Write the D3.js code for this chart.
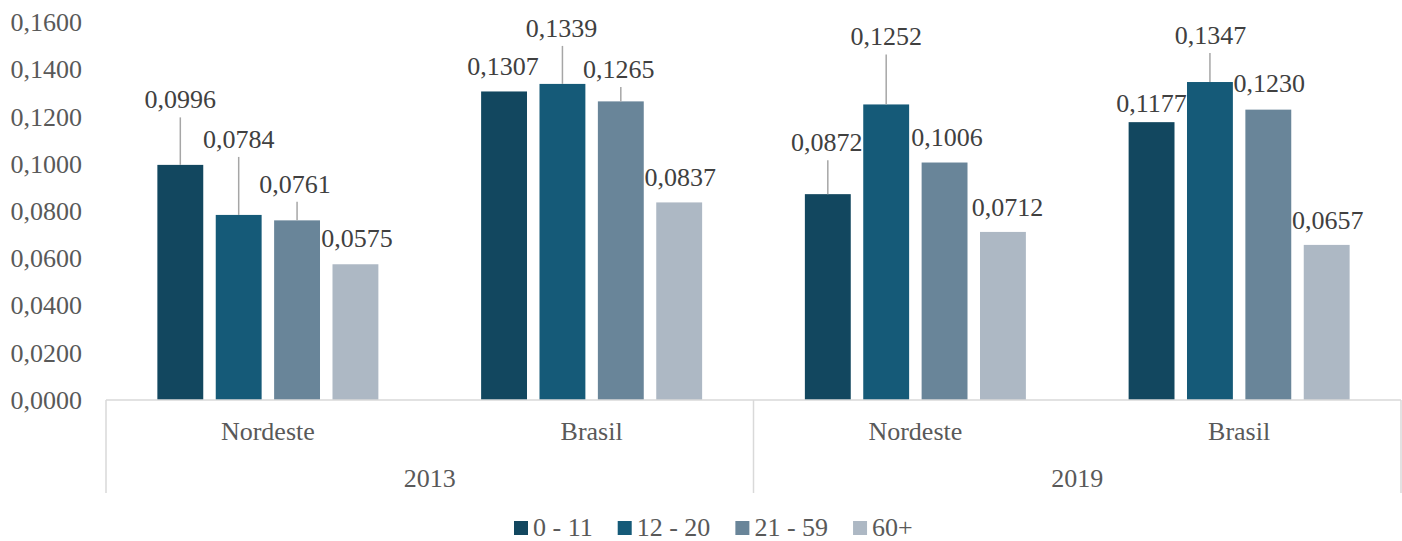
<!DOCTYPE html>
<html>
<head>
<meta charset="utf-8">
<script src="https://cdn.jsdelivr.net/npm/d3@7"></script>
<style>
  body { margin: 0; background: #fff; }
  svg text { font-family: 'Liberation Serif', 'Times New Roman', Times, 'DejaVu Serif', serif; }
</style>
</head>
<body>
<svg id="chart"></svg>
<script>
// data
const years = ["2013", "2019"]
const regions = ["Nordeste", "Brasil"]
const ageGroups = ["0 - 11", "12 - 20", "21 - 59", "60+"]
const nordeste2013 = [0.0996, 0.0784, 0.0761, 0.0575]
const brasil2013 = [0.1307, 0.1339, 0.1265, 0.0837]
const nordeste2019 = [0.0872, 0.1252, 0.1006, 0.0712]
const brasil2019 = [0.1177, 0.1347, 0.1230, 0.0657]
const yTicks = [0, 0.02, 0.04, 0.06, 0.08, 0.10, 0.12, 0.14, 0.16]

// layout / style
const width = 1402, height = 541
const colors = ["#12475f", "#155a78", "#698599", "#adb8c4"]
const fontSize = 26
const serif = "'Liberation Serif', 'Times New Roman', Times, 'DejaVu Serif', serif"
// manual label placement (dx, dy of label centre from bar top), like the moved excel labels
const labelNudge = [
  [[0, -65.5], [0, -76], [-2, -36.5], [1.5, -26]],
  [[-1, -25.5], [-1, -56], [-2, -32.5], [1, -25]],
  [[-1, -52], [0, -68], [2.5, -25.5], [4.5, -25]],
  [[0, -19], [0.5, -47], [1, -26.5], [1, -25]]
]

const groups = []
const groupValues = [nordeste2013, brasil2013, nordeste2019, brasil2019]
years.forEach((yr, yi) => regions.forEach((rg, ri) => {
  groups.push({key: yr + "-" + rg, year: yr, region: rg, values: groupValues[yi * 2 + ri], idx: yi * 2 + ri})
}))

const fmt = v => d3.format(".4f")(v).replace(".", ",")

const svg = d3.select("#chart").attr("width", width).attr("height", height)

const x0 = d3.scaleBand()
  .domain(groups.map(d => d.key))
  .range([106, 1401])
  .padding(0)

const x1 = d3.scaleBand()
  .domain(ageGroups)
  .range([0, x0.bandwidth()])
  .paddingInner(0.214)
  .paddingOuter(0.88)

const y = d3.scaleLinear()
  .domain([0, 0.16])
  .range([400, 22.3])

// y axis labels, no line
const yAxis = svg.append("g")
  .attr("transform", "translate(82,0)")
  .call(d3.axisLeft(y).tickValues(yTicks).tickFormat(fmt).tickSize(0).tickPadding(0))
yAxis.attr("font-family", serif).attr("font-size", fontSize)
yAxis.select(".domain").remove()
yAxis.selectAll("text")
  .style("fill", "#595959")

// bars
const g = svg.append("g")
  .selectAll("g")
  .data(groups)
  .enter()
  .append("g")
  .attr("transform", d => "translate(" + x0(d.key) + ",0)")

g.selectAll("rect")
  .data(d => d.values.map((v, i) => ({v: v, age: ageGroups[i], i: i})))
  .enter()
  .append("rect")
  .attr("x", d => x1(d.age))
  .attr("y", d => y(d.v))
  .attr("width", x1.bandwidth())
  .attr("height", d => y(0) - y(d.v))
  .style("fill", d => colors[d.i])

// data labels + leader lines
g.each(function(grp) {
  const sel = d3.select(this)
  grp.values.forEach((v, i) => {
    const cx = x1(ageGroups[i]) + x1.bandwidth() / 2
    const top = y(v)
    const nd = labelNudge[grp.idx][i]
    const cy = top + nd[1]
    if (nd[1] < -30) {
      sel.append("line")
        .attr("x1", cx).attr("x2", cx)
        .attr("y1", cy + 18).attr("y2", top)
        .style("stroke", "#a6a6a6")
        .style("stroke-width", 1.5)
    }
    sel.append("text")
      .attr("x", cx + nd[0])
      .attr("y", cy + 8.8)
      .attr("text-anchor", "middle")
      .attr("font-family", serif)
      .style("font-size", fontSize + "px")
      .style("fill", "#404040")
      .text(fmt(v))
  })
})

// category axis
const axisCol = "#d9d9d9"
const x0Range = x0.range()
svg.append("line")
  .attr("x1", x0Range[0]).attr("x2", x0Range[1])
  .attr("y1", y(0)).attr("y2", y(0))
  .style("stroke", axisCol).style("stroke-width", 1.5)

const yearEdges = [x0(groups[0].key), x0(groups[2].key), x0Range[1]]
svg.selectAll(".divider")
  .data(yearEdges)
  .enter()
  .append("line")
  .attr("class", "divider")
  .attr("x1", d => d).attr("x2", d => d)
  .attr("y1", y(0)).attr("y2", 493)
  .style("stroke", axisCol).style("stroke-width", 1.5)

svg.selectAll(".cat")
  .data(groups)
  .enter()
  .append("text")
  .attr("class", "cat")
  .attr("x", d => x0(d.key) + x0.bandwidth() / 2)
  .attr("y", 440)
  .attr("text-anchor", "middle")
  .attr("font-family", serif)
  .style("font-size", fontSize + "px")
  .style("fill", "#595959")
  .text(d => d.region)

svg.selectAll(".year")
  .data(years)
  .enter()
  .append("text")
  .attr("class", "year")
  .attr("x", d => {
    const ks = groups.filter(gr => gr.year === d)
    return (x0(ks[0].key) + x0(ks[ks.length - 1].key) + x0.bandwidth()) / 2
  })
  .attr("y", 487)
  .attr("text-anchor", "middle")
  .attr("font-family", serif)
  .style("font-size", fontSize + "px")
  .style("fill", "#595959")
  .text(d => d)

// legend
const legend = svg.append("g")
let lx = 514
ageGroups.forEach((a, i) => {
  legend.append("rect")
    .attr("x", lx).attr("y", 521)
    .attr("width", 14).attr("height", 14)
    .style("fill", colors[i])
  const t = legend.append("text")
    .attr("x", lx + 19)
    .attr("y", 536)
    .attr("font-family", serif)
    .style("font-size", fontSize + "px")
    .style("fill", "#595959")
    .text(a)
  lx += 19 + t.node().getComputedTextLength() + 25
})
</script>
</body>
</html>
